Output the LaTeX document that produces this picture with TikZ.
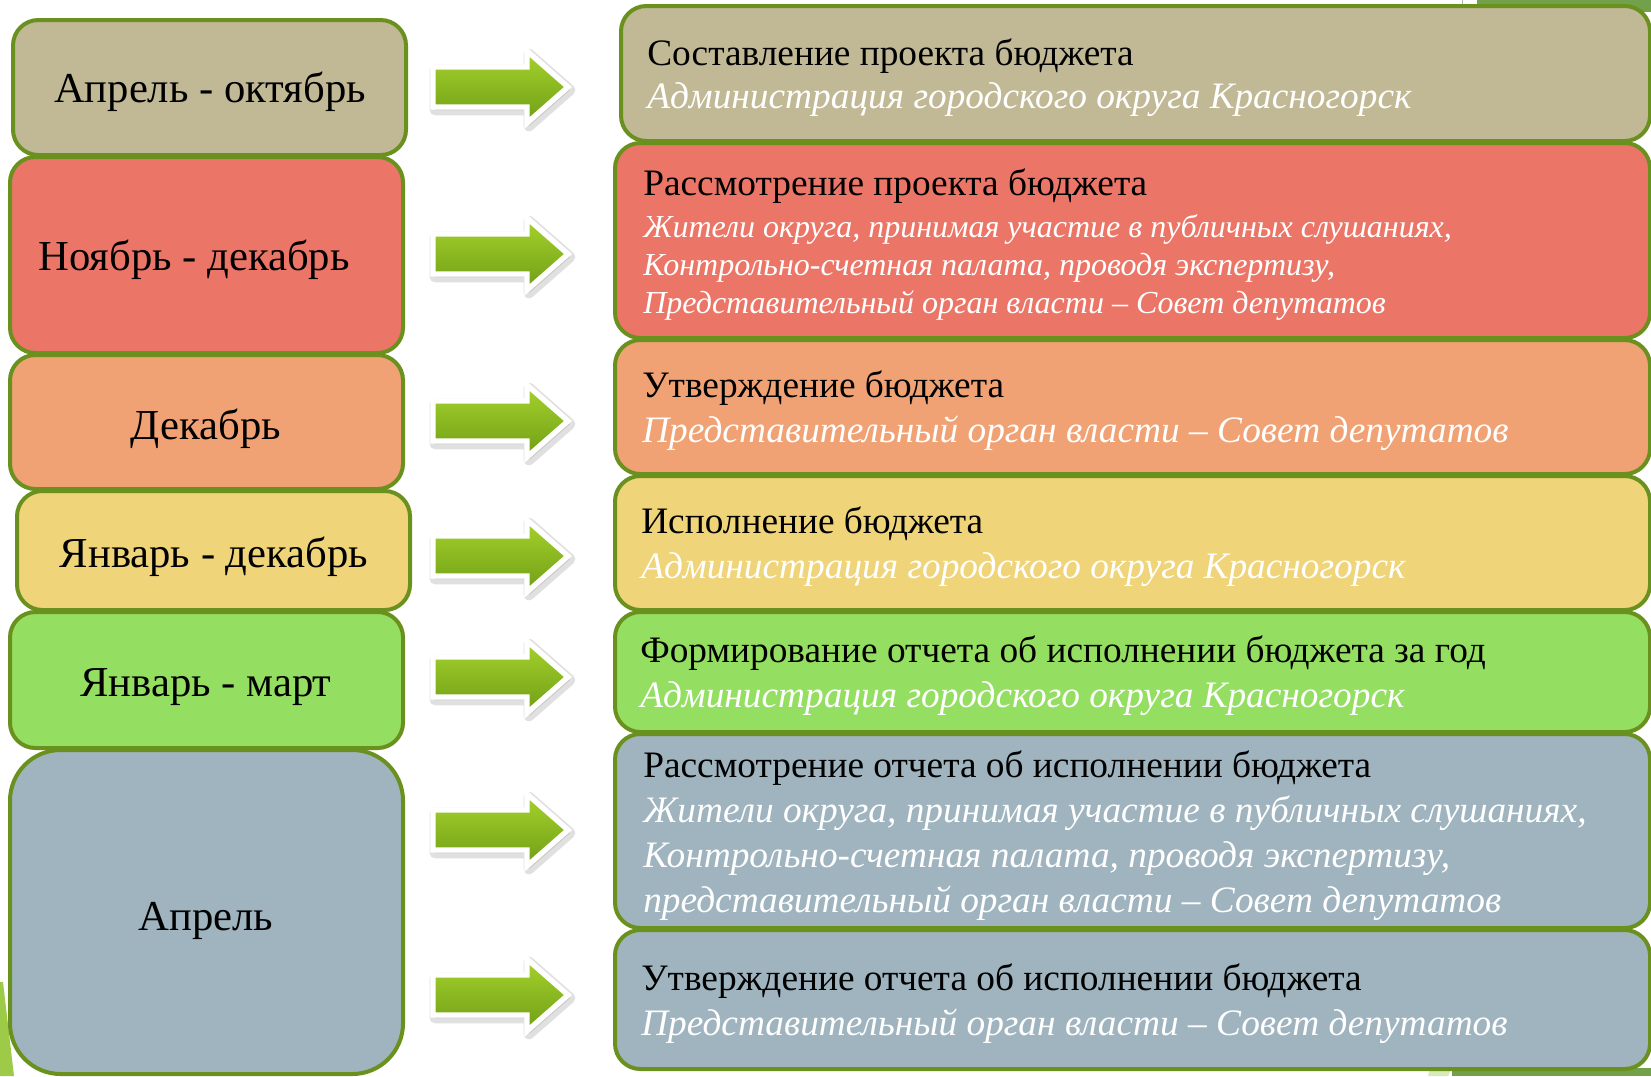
\documentclass[tikz,border=0pt]{standalone}
\usepackage{fontspec}
\setmainfont{Liberation Serif}

\definecolor{edgegreen}{HTML}{6A901E}
\definecolor{cTan}{HTML}{C1B995}
\definecolor{cRed}{HTML}{EB7667}
\definecolor{cOrange}{HTML}{F0A274}
\definecolor{cYellow}{HTML}{EFD47A}
\definecolor{cGreen}{HTML}{94DF62}
\definecolor{cGray}{HTML}{9FB4BF}
\definecolor{arrowlight}{HTML}{A6D22C}
\definecolor{arrowdark}{HTML}{6F9E16}
\definecolor{bgdark}{HTML}{73A04A}
\definecolor{bglight}{HTML}{9DCB47}

\tikzset{
  period/.style={draw=edgegreen, line width=3pt, rounded corners=19pt},
  stage/.style={draw=edgegreen, line width=3pt, rounded corners=19pt},
  month/.style={anchor=base, inner sep=0pt, font=\fontsize{32}{37}\selectfont},
  title/.style={anchor=base west, inner sep=0pt, font=\fontsize{28}{33}\selectfont},
  actor/.style={anchor=base west, inner sep=0pt, text=white, font=\fontsize{28}{33}\selectfont\itshape},
  smallactor/.style={actor, font=\fontsize{24}{28}\selectfont\itshape},
  arrowshadow/.style={draw=black, fill=black, line width=8pt, line join=round, opacity=0.12},
  blockarrow/.style={draw=white, line width=4pt, top color=arrowlight, bottom color=arrowdark}
}

\begin{document}
\begin{tikzpicture}[x=0.75pt, y=-0.75pt]
    \useasboundingbox[fill=white] (0,0) rectangle (1651,1076);

    % slide background bits
    \fill[bgdark] (1477,0) rectangle (1651,12);
    \draw[black!30] (1462,0) -- (1462,6);
    \fill[bglight] (0,982) -- (3,982) -- (14,1076) -- (0,1076) -- cycle;
    \fill[bglight!40] (1430,1068) -- (1452,1068) -- (1448,1076) -- (1428,1076) -- cycle;
    \fill[bgdark] (1452,1068) rectangle (1651,1076);

    % months
    \draw[period, fill=cTan] (13,20) rectangle (406,155);
    \draw[period, fill=cRed] (10,157) rectangle (403,353);
    \draw[period, fill=cOrange] (10,355) rectangle (403,489);
    \draw[period, fill=cYellow] (17,491) rectangle (410,610);
    \draw[period, fill=cGreen] (10,612) rectangle (403,748);
    \draw[period, fill=cGray, rounded corners=38pt] (10,750) rectangle (403,1074);

    \node[month] (m1) at (210,102) {Апрель - октябрь};
    \node[month] (m2) at (194,270) {Ноябрь - декабрь};
    \node[month] (m3) at (206,439) {Декабрь};
    \node[month] (m4) at (214,567) {Январь - декабрь};
    \node[month] (m5) at (206,696) {Январь - март};
    \node[month] (m6) at (206,930) {Апрель};

    % arrows
    \foreach \c in {87,254,421,556,677,830,995} {
        \draw[arrowshadow] (435,\c-17) -- (529,\c-17) -- (529,\c-33) -- (570,\c+3)
            -- (529,\c+39) -- (529,\c+23) -- (435,\c+23) -- cycle;
        \draw[blockarrow] (433,\c-20) -- (527,\c-20) -- (527,\c-36) -- (568,\c)
            -- (527,\c+36) -- (527,\c+20) -- (433,\c+20) -- cycle;
    }

    % stages
    \draw[stage, fill=cTan] (621,6) rectangle (1650,141);
    \draw[stage, fill=cRed] (615,143) rectangle (1650,338);
    \draw[stage, fill=cOrange] (615,340) rectangle (1650,474);
    \draw[stage, fill=cYellow] (615,476) rectangle (1650,610);
    \draw[stage, fill=cGreen] (615,612) rectangle (1650,732);
    \draw[stage, fill=cGray] (615,734) rectangle (1650,928);
    \draw[stage, fill=cGray] (615,930) rectangle (1650,1069);

    \node[title] (s1) at (647,65) {Составление проекта бюджета};
    \node[actor] (a1) at (647,108) {Администрация городского округа Красногорск};

    \node[title] (s2) at (643,195) {Рассмотрение проекта бюджета};
    \node[smallactor] (a2a) at (643,237) {Жители округа, принимая участие в публичных слушаниях,};
    \node[smallactor] (a2b) at (643,275) {Контрольно-счетная палата, проводя экспертизу,};
    \node[smallactor] (a2c) at (643,313) {Представительный орган власти – Совет депутатов};

    \node[title] (s3) at (642,397) {Утверждение бюджета};
    \node[actor] (a3) at (642,442) {Представительный орган власти – Совет депутатов};

    \node[title] (s4) at (641,533) {Исполнение бюджета};
    \node[actor] (a4) at (641,578) {Администрация городского округа Красногорск};

    \node[title] (s5) at (640,662) {Формирование отчета об исполнении бюджета за год};
    \node[actor] (a5) at (640,707) {Администрация городского округа Красногорск};

    \node[title] (s6) at (643,777) {Рассмотрение отчета об исполнении бюджета};
    \node[actor] (a6a) at (643,822) {Жители округа, принимая участие в публичных слушаниях,};
    \node[actor] (a6b) at (643,867) {Контрольно-счетная палата, проводя экспертизу,};
    \node[actor] (a6c) at (643,912) {представительный орган власти – Совет депутатов};

    \node[title] (s7) at (641,990) {Утверждение отчета об исполнении бюджета};
    \node[actor] (a7) at (641,1035) {Представительный орган власти – Совет депутатов};
\end{tikzpicture}
\end{document}
